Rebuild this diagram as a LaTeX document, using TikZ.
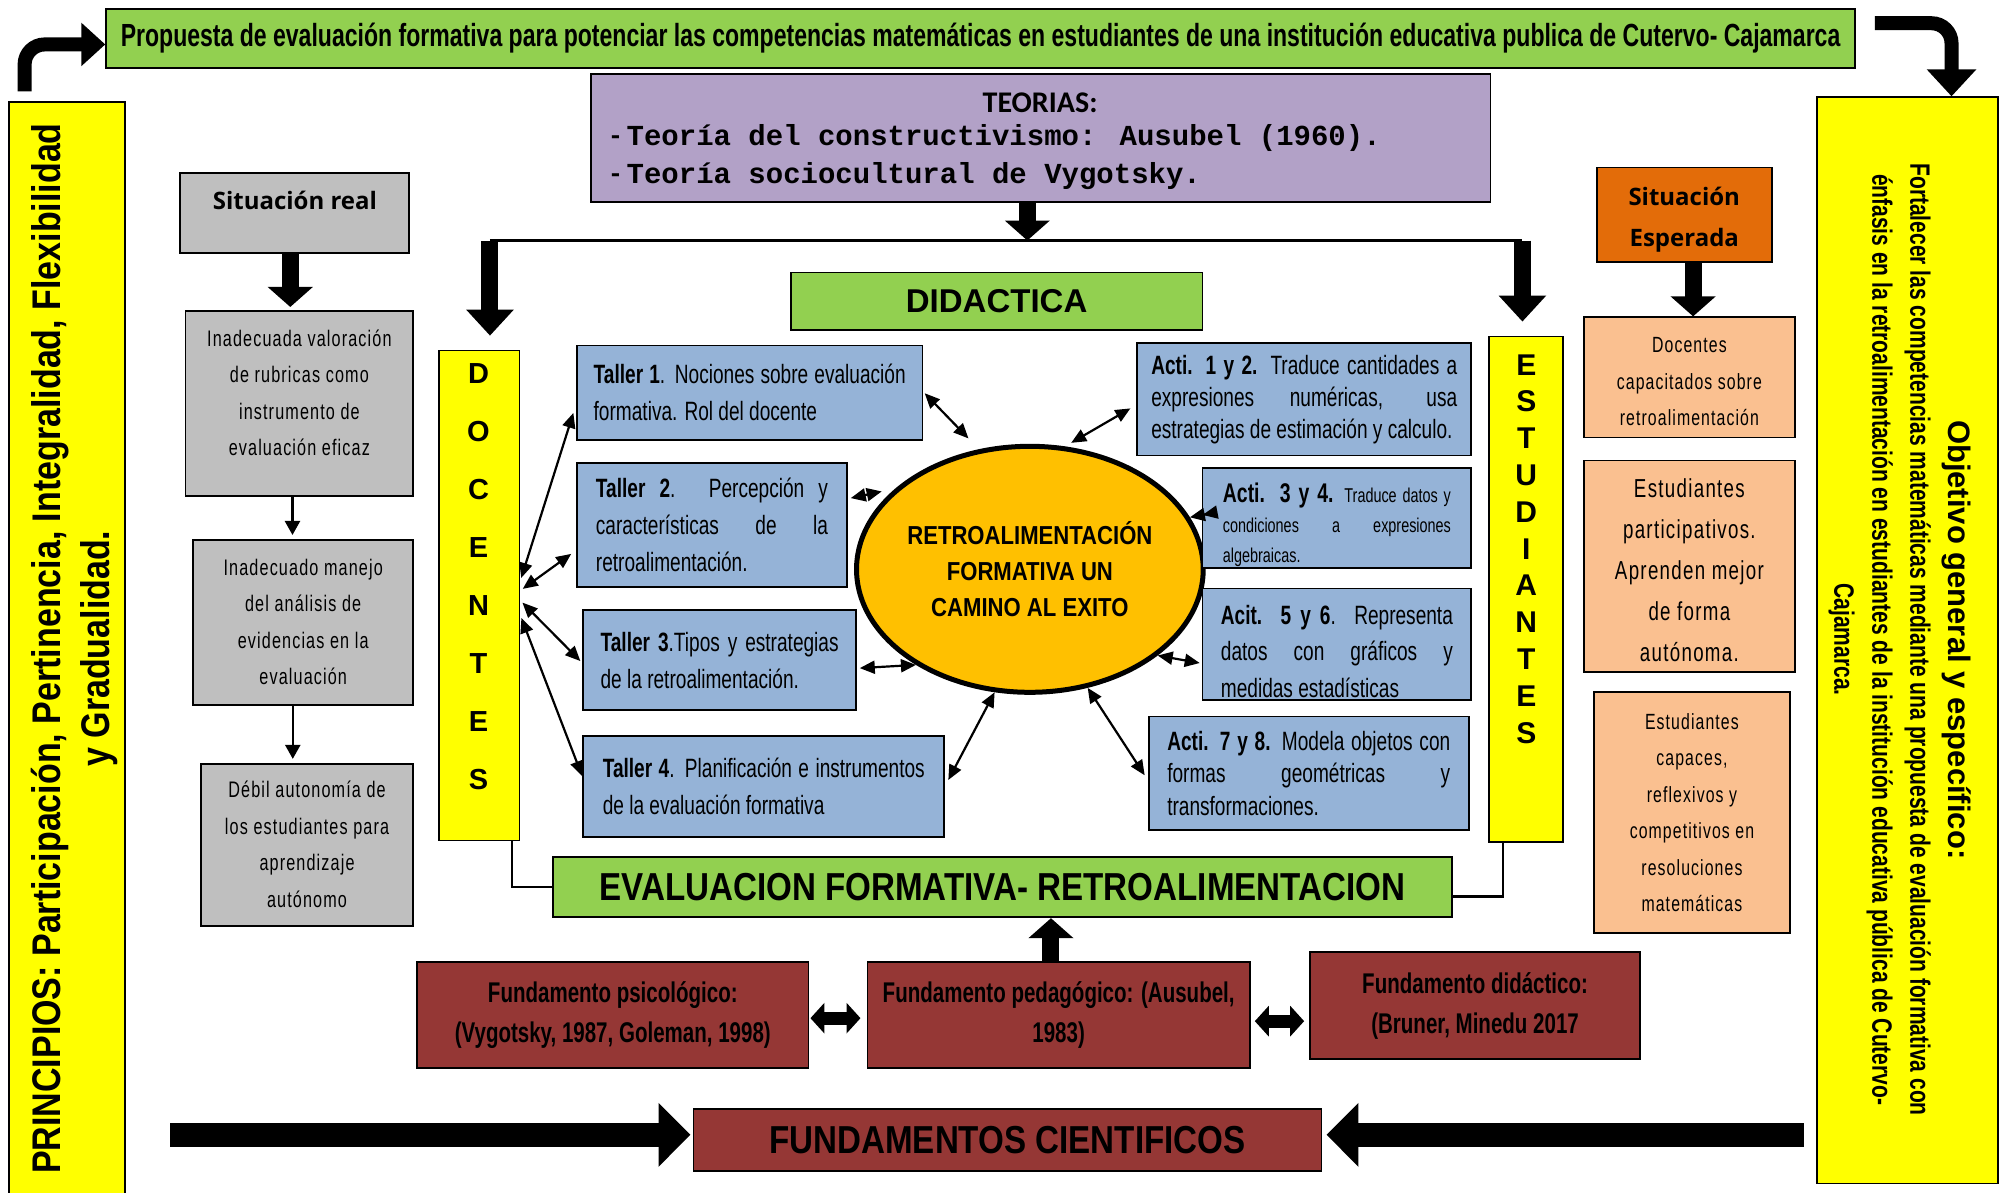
\documentclass[tikz,border=0pt]{standalone}
\usepackage{fontspec}
\setmainfont{Liberation Sans}
\newfontfamily\agency[FakeStretch=0.72]{Liberation Sans}
\newfontfamily\agencyw[FakeStretch=0.75]{Liberation Sans}
\newfontfamily\agencysp[FakeStretch=0.72,LetterSpace=5]{Liberation Sans}
\newfontfamily\arialn[FakeStretch=0.85]{Liberation Sans}
\newfontfamily\monof{Liberation Mono}
\newfontfamily\calib{Carlito}
\newfontfamily\opens{Open Sans}
\usetikzlibrary{arrows.meta,shapes.geometric,calc}
\definecolor{cgreen}{HTML}{92D050}
\definecolor{cyellow}{HTML}{FFFF00}
\definecolor{cpurple}{HTML}{B2A1C7}
\definecolor{cgray}{HTML}{BFBFBF}
\definecolor{cblue}{HTML}{95B3D7}
\definecolor{corange}{HTML}{E36C09}
\definecolor{clorange}{HTML}{FAC090}
\definecolor{cgold}{HTML}{FFC000}
\definecolor{cred}{HTML}{953735}
\begin{document}
\begin{tikzpicture}[x=1.2793pt,y=-1.2793pt,
  sz/.style 2 args={minimum width=#1*1.2793pt,minimum height=#2*1.2793pt},
  bx/.style={draw=black,line width=1.8pt,inner sep=0pt},
  dbl/.style={line width=2.2pt,{Triangle[length=15pt,width=13pt]}-{Triangle[length=15pt,width=13pt]}},
  thinarr/.style={line width=2.4pt,-{Triangle[length=14pt,width=15pt]}},
  blkdown/.style={line width=17pt,-{Triangle[length=26pt,width=46pt]}},
  blksmall/.style={line width=17pt,-{Triangle[length=20pt,width=44pt]}},
  blkdbl/.style={line width=13pt,{Triangle[length=14pt,width=30pt]}-{Triangle[length=14pt,width=30pt]}},
  blkbig/.style={line width=24pt,-{Triangle[length=32pt,width=62pt]}},
  curv/.style={line width=14pt,rounded corners=20pt},
  tbox/.style={bx,fill=cblue,align=justify,font=\agency\fontsize{26.5}{37}\selectfont},
  gbox/.style={bx,fill=cgray},
  gtxt/.style={align=center,font=\agencysp\fontsize{22.5}{36.5}\selectfont},
  obox/.style={bx,fill=clorange},
  otxt/.style={align=center,font=\agencysp\fontsize{22}{36.5}\selectfont},
  rbox/.style={bx,fill=cred,align=center,font=\agency\bfseries\fontsize{28.5}{40}\selectfont},
  ybox/.style={bx,fill=cyellow},
  gnbox/.style={bx,fill=cgreen},
  conn/.style={line width=2.2pt}
]
\useasboundingbox (0,0) rectangle (1568,932);

% ---------- title and side panels
\node[gnbox, sz={1367}{46}, font=\agency\bfseries\fontsize{32}{34}\selectfont] (title) at (766.5,30) {Propuesta de evaluación formativa para potenciar las competencias matemáticas en estudiantes de una institución educativa publica de Cutervo- Cajamarca};

\node[ybox, sz={91}{870}] (princ) at (52.5,515) {};
\node[rotate=90, align=center, font=\arialn\bfseries\fontsize{40}{49}\selectfont] (princt) at (58,507) {PRINCIPIOS: Participación, Pertinencia, Integralidad, Flexibilidad\\y Gradualidad.};

\node[ybox, sz={142}{849}] (obj) at (1491,500.5) {};
\node[rotate=-90, align=center, font=\agencyw\bfseries\fontsize{28}{38}\selectfont] (objt) at (1485,500) {{\normalfont\bfseries\fontsize{31}{38}\selectfont Objetivo general y específico:}\\Fortalecer las competencias matemáticas mediante una propuesta de evaluación formativa con\\énfasis en la retroalimentación en estudiantes de la institución educativa pública de Cutervo-\\Cajamarca.};

\draw[curv, -{Triangle[length=24pt,width=42pt]}, shorten <=10pt] ($(princ.north west)!0.14!(princ.north east)$) |- ($(title.north west)!0.6!(title.south west)$);
\draw[curv, -{Triangle[length=27pt,width=48pt]}, shorten <=19pt] ($(title.north east)!0.25!(title.south east)$) -| ($(obj.north west)!0.74!(obj.north east)$);

% ---------- teorias
\node[bx, fill=cpurple, sz={703}{100}] (teo) at (813.5,108) {};
\node[font=\calib\bfseries\fontsize{30}{32}\selectfont] (teoh) at (813,80) {TEORIAS:};
\node[anchor=west, font=\monof\bfseries\fontsize{29}{30}\selectfont] (teo1) at (475,108) {{\calib - }Teoría del constructivismo: Ausubel (1960).};
\node[anchor=west, font=\monof\bfseries\fontsize{29}{30}\selectfont] (teo2) at (475,138) {{\calib - }Teoría sociocultural de Vygotsky.};

\coordinate (tj) at (803,188);
\coordinate (lj) at (383,188);
\coordinate (rj) at (1190,188);
\draw[blksmall] (teo.south -| tj) -- (tj);
\draw[line width=2.5pt] (lj) -- (rj);

% ---------- didactica, docentes, estudiantes
\node[gnbox, sz={322}{45}, font=\bfseries\fontsize{33}{35}\selectfont] (did) at (779,235.5) {DIDACTICA};

\node[ybox, sz={63}{383}] (doc) at (374.5,465.5) {};
\node[align=center, font=\bfseries\fontsize{29}{58}\selectfont] (doct) at (374,451) {D\\O\\C\\E\\N\\T\\E\\S};
\node[ybox, sz={58}{395}] (est) at (1193,460.5) {};
\node[align=center, font=\bfseries\fontsize{30}{36.8}\selectfont] (estt) at (1193,429) {E\\S\\T\\U\\D\\I\\A\\N\\T\\E\\S};

\draw[blkdown, shorten >=14pt] (lj) -- (lj |- doc.north);
\draw[blkdown, shorten >=14pt] (rj) -- (rj |- est.north);

% ---------- situacion real
\node[gbox, sz={179}{63}] (sr) at (230.5,166.5) {};
\node[font=\opens\bfseries\fontsize{24}{26}\selectfont] (srt) at (230.5,157) {Situación real};
\node[gbox, sz={178}{145}] (g1) at (234,315.5) {};
\node[gtxt] (g1t) at (234,307) {Inadecuada valoración\\de rubricas como\\instrumento de\\evaluación eficaz};
\node[gbox, sz={172}{129}] (g2) at (237,486.5) {};
\node[gtxt] (g2t) at (237,486) {Inadecuado manejo\\del análisis de\\evidencias en la\\evaluación};
\node[gbox, sz={166}{127}] (g3) at (240,660.5) {};
\node[gtxt] (g3t) at (240,660) {Débil autonomía de\\los estudiantes para\\aprendizaje\\autónomo};

\draw[blksmall, shorten >=3pt] ($(sr.south west)!0.48!(sr.south east)$) coordinate (srs) -- (srs |- g1.north);
\draw[thinarr, shorten >=4pt] ($(g1.south west)!0.47!(g1.south east)$) coordinate (g1s) -- (g1s |- g2.north);
\draw[thinarr, shorten >=4pt] ($(g2.south west)!0.453!(g2.south east)$) coordinate (g2s) -- (g2s |- g3.north);

% ---------- situacion esperada
\node[bx, fill=corange, sz={137}{74}] (se) at (1316.5,168) {};
\node[align=center, font=\opens\bfseries\fontsize{24}{41}\selectfont] (set) at (1316.5,172) {Situación\\Esperada};
\node[obox, sz={165}{94}] (o1) at (1320.5,295) {};
\node[otxt] (o1t) at (1320.5,298.5) {Docentes\\capacitados sobre\\retroalimentación};
\node[obox, sz={165}{165}] (o2) at (1320.5,442.5) {};
\node[otxt, font=\agencysp\fontsize{26}{41}\selectfont] (o2t) at (1320.5,445.5) {Estudiantes\\participativos.\\Aprenden mejor\\de forma\\autónoma.};
\node[obox, sz={153}{188}] (o3) at (1322.5,635) {};
\node[otxt] (o3t) at (1322.5,635) {Estudiantes\\capaces,\\reflexivos y\\competitivos en\\resoluciones\\matemáticas};
\draw[blksmall] ($(se.south west)!0.55!(se.south east)$) coordinate (ses) -- (ses |- o1.north);

% ---------- central ellipse
\node[ellipse, draw=black, line width=5pt, fill=cgold, minimum width=333pt, minimum height=246pt, inner sep=0pt, align=center, font=\arialn\bfseries\fontsize{26}{36}\selectfont] (ell) at (805,445) {RETROALIMENTACIÓN\\FORMATIVA UN\\CAMINO AL EXITO};

% ---------- talleres
\node[tbox, sz={270}{74}, text width=312pt] (t1) at (586,307) {\textbf{Taller 1}. Nociones sobre evaluación\linebreak formativa. Rol del docente};
\node[tbox, sz={211}{97}, text width=232pt] (t2) at (556.5,410.5) {\textbf{Taller 2}. Percepción y\linebreak características de la\linebreak retroalimentación.};
\node[tbox, sz={213}{78}, text width=238pt] (t3) at (562.5,516) {\textbf{Taller 3}.Tipos y estrategias\linebreak de la retroalimentación.};
\node[tbox, sz={282}{79}, text width=322pt] (t4) at (597,614.5) {\textbf{Taller 4}. Planificación e instrumentos\linebreak de la evaluación formativa};

% ---------- actividades
\node[tbox, sz={261}{88}, text width=306pt, font=\agency\fontsize{26.5}{32}\selectfont] (a12) at (1019.5,312) {\textbf{Acti. 1 y 2.} Traduce cantidades a\linebreak expresiones numéricas, usa\linebreak estrategias de estimación y calculo.};
\node[tbox, sz={210}{78}] (a34) at (1045,405) {};
\node[text width=228pt, align=justify, font=\agency\fontsize{20}{30}\selectfont] (a34t) at (1045,410) {{\fontsize{27}{30}\selectfont\bfseries Acti. 3 y 4.} Traduce datos y\linebreak condiciones a expresiones\linebreak algebraicas.};
\node[tbox, sz={210}{87}, path picture={\node[text width=232pt, align=justify, font=\agency\fontsize{26.5}{36.5}\selectfont] at ([yshift=-7pt]path picture bounding box.center) {\textbf{Acit. 5 y 6}. Representa\linebreak datos con gráficos y\linebreak medidas estadísticas};}] (a56) at (1045,503.5) {};
\node[tbox, sz={250}{89}, text width=283pt, font=\agency\fontsize{26.5}{32.6}\selectfont] (a78) at (1023,604.5) {\textbf{Acti. 7 y 8.} Modela objetos con\linebreak formas geométricas y\linebreak transformaciones.};

% ---------- docentes arrows
\draw[dbl, shorten <=3pt, shorten >=9pt] ($(doc.north east)!0.47!(doc.south east)$) -- ($(t1.north west)!0.62!(t1.south west)$);
\draw[dbl, shorten <=3pt, shorten >=6pt] ($(doc.north east)!0.49!(doc.south east)$) -- ($(t2.north west)!0.70!(t2.south west)$);
\draw[dbl, shorten <=3pt, shorten >=3pt] ($(doc.north east)!0.51!(doc.south east)$) -- ($(t3.north west)!0.53!(t3.south west)$);
\draw[dbl, shorten <=3pt, shorten >=1pt] ($(doc.north east)!0.54!(doc.south east)$) -- ($(t4.north west)!0.41!(t4.south west)$);

% ---------- ellipse arrows
\draw[dbl, shorten <=2pt, shorten >=15pt] ($(t1.north east)!0.49!(t1.south east)$) -- (ell.113.6);
\draw[dbl, shorten <=3pt, shorten >=14pt] ($(t2.north east)!0.29!(t2.south east)$) -- (ell.149);
\draw[dbl, shorten <=3pt] ($(t3.north east)!0.58!(t3.south east)$) -- (ell.220.8);
\draw[dbl, shorten <=7pt] (t4.east) -- (ell.254);
\draw[dbl, shorten <=7pt, shorten >=7pt] ($(a12.north west)!0.55!(a12.south west)$) -- (ell.74.4);
\draw[dbl, shorten <=1pt] ($(a34.north west)!0.47!(a34.south west)$) -- (ell.18.3);
\draw[dbl, shorten <=2pt] ($(a56.north west)!0.67!(a56.south west)$) -- (ell.326.4);
\draw[dbl, shorten <=6pt] ($(a78.north west)!0.56!(a78.south west)$) -- (ell.296);

% ---------- evaluacion formativa
\node[gnbox, sz={703}{47}, font=\arialn\bfseries\fontsize{39}{41}\selectfont] (eval) at (783.5,693.5) {EVALUACION FORMATIVA- RETROALIMENTACION};
\draw[conn] ($(doc.south west)!0.9!(doc.south east)$) |- (eval.west);
\draw[conn] ($(est.south west)!0.19!(est.south east)$) |- ($(eval.north east)!0.65!(eval.south east)$);

% ---------- fundamentos
\node[rbox, sz={306}{83}] (fps) at (479,793.5) {Fundamento psicológico:\\(Vygotsky, 1987, Goleman, 1998)};
\node[rbox, sz={299}{83}] (fpe) at (827.5,793.5) {Fundamento pedagógico: (Ausubel,\\1983)};
\node[rbox, sz={258}{84}] (fdi) at (1153,786) {Fundamento didáctico:\\(Bruner, Minedu 2017};
\draw[blkdbl, shorten <=1pt, shorten >=6pt] ([yshift=-3pt]fps.east) -- ([yshift=-3pt]fps.east -| fpe.west);
\draw[blkdbl, shorten <=4pt, shorten >=5pt] ([yshift=-6pt]fpe.east) -- ([yshift=-6pt]fpe.east -| fdi.west);
\draw[blksmall] ($(fpe.north west)!0.48!(fpe.north east)$) coordinate (fpn) -- (fpn |- eval.south);

\node[rbox, sz={491}{48}, font=\arialn\bfseries\fontsize{39}{41}\selectfont] (fc) at (787.5,891) {FUNDAMENTOS CIENTIFICOS};
\coordinate (fl) at (133,887);
\coordinate (fr) at (1410,887);
\draw[blkbig, shorten >=2pt] (fl) -- (fl -| fc.west);
\draw[blkbig, shorten >=4pt] (fr) -- (fr -| fc.east);
\end{tikzpicture}
\end{document}
